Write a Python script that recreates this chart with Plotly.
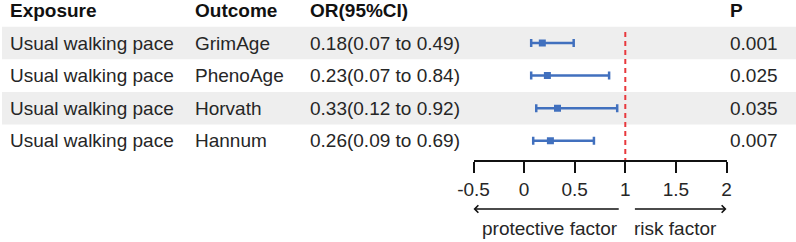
import plotly.graph_objects as go

exposure = ["Usual walking pace"] * 4
outcome = ["GrimAge", "PhenoAge", "Horvath", "Hannum"]
or_val = [0.18, 0.23, 0.33, 0.26]
ci_low = [0.07, 0.07, 0.12, 0.09]
ci_high = [0.49, 0.84, 0.92, 0.69]
p_val = ["0.001", "0.025", "0.035", "0.007"]
headers = ["Exposure", "Outcome", "OR(95%CI)", "P"]
tick_vals = [-0.5, 0, 0.5, 1, 1.5, 2]
tick_text = ["-0.5", "0", "0.5", "1", "1.5", "2"]
ref_value = 1

W, H = 796, 242
rows = list(range(1, len(outcome) + 1))
or_text = [f"{o:.2f}({l:.2f} to {h:.2f})" for o, l, h in zip(or_val, ci_low, ci_high)]

FONT = "Liberation Sans, Arial, sans-serif"
TXT = "#262626"
FS = 19
BLUE = "#4170BE"

fig = go.Figure()
fig.add_trace(go.Scatter(
    x=or_val, y=rows, mode="markers",
    marker=dict(symbol="square", size=7, color=BLUE),
    error_x=dict(type="data", symmetric=False,
                 array=[h - o for h, o in zip(ci_high, or_val)],
                 arrayminus=[o - l for o, l in zip(or_val, ci_low)],
                 color=BLUE, thickness=2.5, width=4),
    showlegend=False, hoverinfo="skip",
))

y_top, y_bot = -0.319, 4.589
shapes = []
for r in rows:
    if r % 2 == 1:
        shapes.append(dict(type="rect", xref="paper", yref="y", x0=2 / W, x1=1,
                           y0=r - 0.5, y1=r + 0.5, fillcolor="#EEEEEE",
                           line=dict(width=0), layer="below"))
shapes.append(dict(type="line", xref="x", yref="y", x0=ref_value, x1=ref_value,
                   y0=0.66, y1=y_bot, line=dict(color="#E8383D", width=2, dash="5px,4px")))

ann = []
col_x = [8, 193, 308, 728]
for hx, h in zip(col_x, headers):
    ann.append(dict(x=hx / W, y=0, xref="paper", yref="y", text=f"<b>{h}</b>",
                    showarrow=False, xanchor="left", yanchor="middle",
                    font=dict(family=FONT, size=FS, color="#111111")))
for r, e, o, t, p in zip(rows, exposure, outcome, or_text, p_val):
    for cx, s in zip(col_x, [e, o, t, p]):
        ann.append(dict(x=cx / W, y=r, xref="paper", yref="y", text=s,
                        showarrow=False, xanchor="left", yanchor="middle",
                        font=dict(family=FONT, size=FS, color=TXT)))

arrow_y = (H - 209) / H
ann.append(dict(x=-0.5, y=arrow_y, xref="x", yref="paper", ax=0.95, ay=0,
                axref="x", ayref="pixel", text="", showarrow=True,
                arrowhead=4, arrowsize=1.1, arrowwidth=1.3, arrowcolor="#111111"))
ann.append(dict(x=2, y=arrow_y, xref="x", yref="paper", ax=1.08, ay=0,
                axref="x", ayref="pixel", text="", showarrow=True,
                arrowhead=4, arrowsize=1.1, arrowwidth=1.3, arrowcolor="#111111"))
lab_y = (H - 228) / H
ann.append(dict(x=550 / W, y=lab_y, xref="paper", yref="paper", text="protective factor",
                showarrow=False, xanchor="center", yanchor="middle",
                font=dict(family=FONT, size=FS, color=TXT)))
ann.append(dict(x=675 / W, y=lab_y, xref="paper", yref="paper", text="risk factor",
                showarrow=False, xanchor="center", yanchor="middle",
                font=dict(family=FONT, size=FS, color=TXT)))

fig.update_layout(
    width=W, height=H, margin=dict(l=0, r=0, t=0, b=0, pad=0, autoexpand=False),
    paper_bgcolor="white", plot_bgcolor="rgba(0,0,0,0)",
    shapes=shapes, annotations=ann,
    xaxis=dict(domain=[473.5 / W, 726.5 / W], range=[-0.5, 2], automargin=False,
               tickvals=tick_vals, ticktext=tick_text, ticks="outside",
               ticklen=11, tickwidth=1.5, tickcolor="#111111",
               showline=True, linecolor="#111111", linewidth=1.5,
               showgrid=False, zeroline=False,
               tickfont=dict(family=FONT, size=FS, color=TXT)),
    yaxis=dict(domain=[(H - 160) / H, 1], range=[y_bot, y_top], automargin=False,
               visible=False, showgrid=False, zeroline=False),
)

fig.write_html("out.html", config={"displayModeBar": False},
               post_script="document.body.style.margin='0';document.body.style.overflow='hidden';")
